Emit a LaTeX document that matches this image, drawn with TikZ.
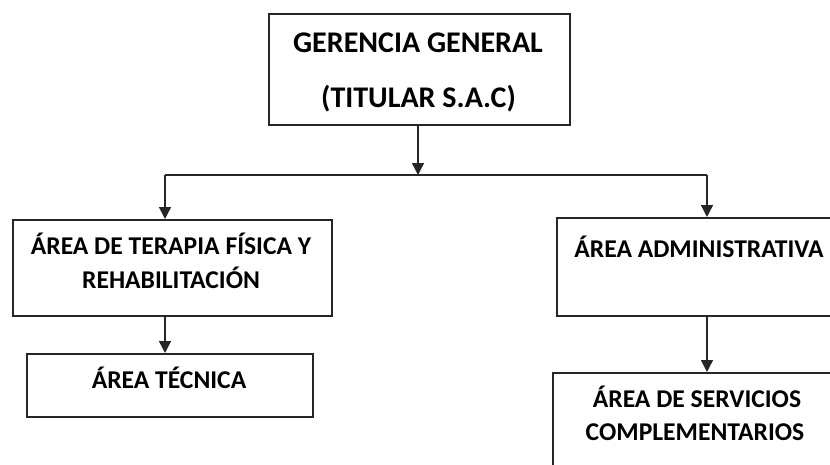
\documentclass[tikz,border=0pt]{standalone}
\usepackage{fontspec}
\setmainfont{Carlito}
\usetikzlibrary{arrows.meta}
\tikzset{
  box/.style={draw=black!85, line width=2pt, rectangle, inner sep=0pt, anchor=north west},
  conn/.style={draw=black!85, line width=1.4pt},
  arr/.style={conn, -{Triangle[width=12pt,length=12pt]}},
  bigtxt/.style={anchor=base, inner sep=0pt, font=\bfseries\fontsize{30}{34}\selectfont},
  txt/.style={anchor=base, inner sep=0pt, font=\bfseries\fontsize{25.6}{29}\selectfont},
}
\begin{document}
\begin{tikzpicture}[x=1pt,y=-1pt]
\useasboundingbox (0,0) rectangle (830,464);
\clip (0,0) rectangle (830,464);
% boxes
\node[box, minimum width=301pt, minimum height=111pt] (gg) at (268,13) {};
\node[box, minimum width=319pt, minimum height=96pt] (ter) at (12,219) {};
\node[box, minimum width=286pt, minimum height=63pt] (tec) at (26,353) {};
\node[box, minimum width=290pt, minimum height=98pt] (adm) at (556,217) {};
\node[box, minimum width=295pt, minimum height=110pt] (ser) at (552,372) {};
% texts
\node[bigtxt] (gg1) at (418,52) {GERENCIA GENERAL};
\node[bigtxt] (gg2) at (418.5,107) {(TITULAR S.A.C)};
\node[txt] (ter1) at (171,254) {ÁREA DE TERAPIA FÍSICA Y};
\node[txt] (ter2) at (171,288) {REHABILITACIÓN};
\node[txt] (tec1) at (169,388) {ÁREA TÉCNICA};
\node[txt] (adm1) at (699,257) {ÁREA ADMINISTRATIVA};
\node[txt] (ser1) at (697,407) {ÁREA DE SERVICIOS};
\node[txt] (ser2) at (695,440) {COMPLEMENTARIOS};
% connectors
\coordinate (bus) at (418,175);
\coordinate (jl) at (165,175);
\coordinate (jr) at (707,175);
\draw[arr] (gg.south -| bus) -- (bus);
\draw[conn] (jl) -- (jr);
\draw[arr] (jl) -- (jl |- ter.north);
\draw[arr] (jr) -- (jr |- adm.north);
\draw[arr] (jl |- ter.south) -- (jl |- tec.north);
\draw[arr] (jr |- adm.south) -- (jr |- ser.north);
\end{tikzpicture}
\end{document}
